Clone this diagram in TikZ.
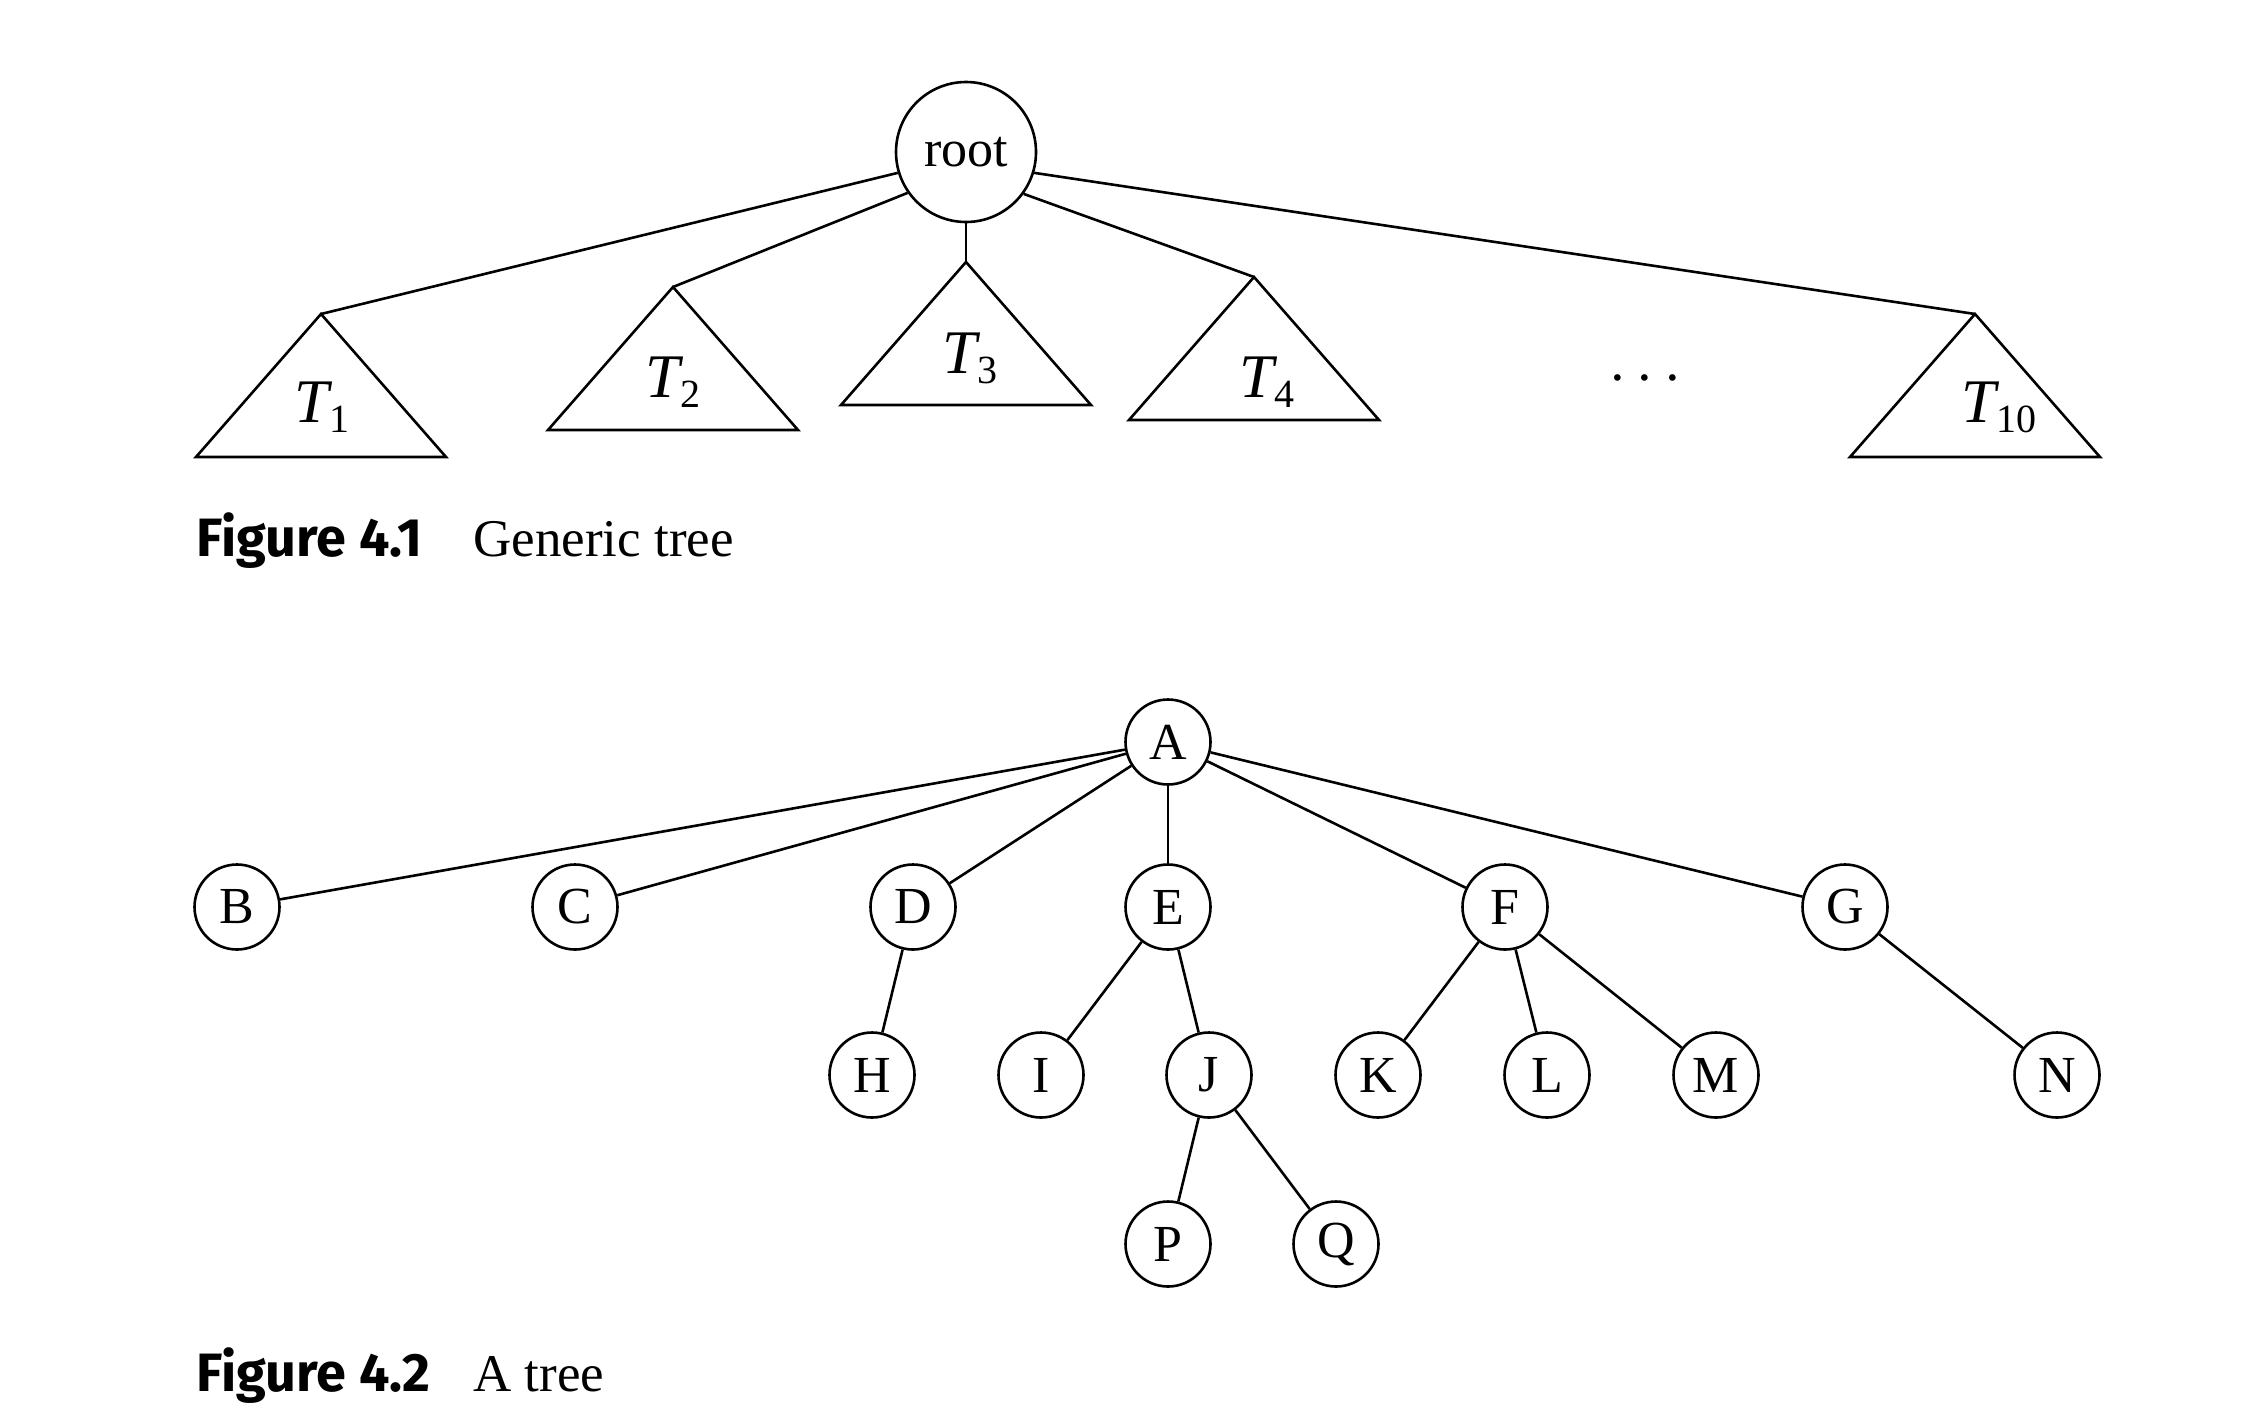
\documentclass[tikz,border=0pt]{standalone}
\usepackage{fontspec}
\setmainfont{Liberation Serif}
\newfontfamily\capsans{Fira Sans}
% subtree name: italic T with a lowered upright index
\newcommand\subtree[1]{\textit{T}\kern-1.5pt\raisebox{-5pt}{\fontsize{20}{20}\selectfont #1}}
\begin{document}
\begin{tikzpicture}[x=0.5pt,y=-0.5pt,
  edge/.style={line width=1.3pt},
  tri/.style={line width=1.3pt, line join=miter},
  rootnode/.style={circle, draw, line width=1.3pt, minimum size=70pt, inner sep=0pt,
    font=\fontsize{26}{26}\selectfont},
  vert/.style={circle, draw, line width=1.3pt, minimum size=42.5pt, inner sep=0pt,
    font=\fontsize{26}{26}\selectfont},
  sublabel/.style={anchor=base west, inner sep=0pt, font=\fontsize{31}{31}\selectfont},
  capnum/.style={anchor=base west, inner sep=0pt, font=\capsans\bfseries\fontsize{27}{27}\selectfont},
  captext/.style={anchor=base west, inner sep=0pt, font=\fontsize{26.5}{26.5}\selectfont}]
\useasboundingbox (0,0) rectangle (2248,1408);

% ---------- generic tree ----------
\node[rootnode] (root) at (966,152) {root};

\coordinate (t1) at (321,314);
\coordinate (t2) at (673,287);
\coordinate (t3) at (966,262);
\coordinate (t4) at (1254,277);
\coordinate (t10) at (1975,314);

\foreach \t in {t1,t2,t3,t4,t10}
  \draw[tri] (\t) -- ++(-125,143) -- ++(250,0) -- cycle;

\node[sublabel] (l1) at (294,422) {\subtree{1}};
\node[sublabel] (l2) at (645,397) {\subtree{2}};
\node[sublabel] (l3) at (942,373) {\subtree{3}};
\node[sublabel] (l4) at (1239,397) {\subtree{4}};
\node[sublabel] (l10) at (1961,422) {\subtree{10}};

\node[font=\fontsize{28}{28}\selectfont, inner sep=0pt] (dots) at (1645,386)
  {\textperiodcentered\hspace{4.5pt}\textperiodcentered\hspace{4.5pt}\textperiodcentered};

\draw[edge] (root.197) -- (t1);
\draw[edge] (root.215) -- (t2);
\draw[edge] (root.south) -- (t3);
\draw[edge] (root.324) -- (t4);
\draw[edge] (root.343) -- (t10);

\node[capnum] (cap1) at (196,556) {Figure 4.1};
\node[captext] (cap1t) at (473,556) {Generic tree};

% ---------- a tree ----------
\node[vert] (A) at (1168,742) {A};
\node[vert] (B) at (237,907) {B};
\node[vert] (C) at (575,907) {C};
\node[vert] (D) at (913,907) {D};
\node[vert] (E) at (1168,907) {E};
\node[vert] (F) at (1505,907) {F};
\node[vert] (G) at (1845,907) {G};
\node[vert] (H) at (872,1075) {H};
\node[vert] (I) at (1041,1075) {I};
\node[vert] (J) at (1209,1075) {J};
\node[vert] (K) at (1378,1075) {K};
\node[vert] (L) at (1547,1075) {L};
\node[vert] (M) at (1716,1075) {M};
\node[vert] (N) at (2057,1075) {N};
\node[vert] (P) at (1168,1244) {P};
\node[vert] (Q) at (1336,1244) {Q};

\foreach \a/\b in {A/B,A/C,A/D,A/E,A/F,A/G,D/H,E/I,E/J,F/K,F/L,F/M,G/N,J/P,J/Q}
  \draw[edge] (\a) -- (\b);

\node[capnum] (cap2) at (196,1391) {Figure 4.2};
\node[captext] (cap2t) at (473,1391) {A tree};
\end{tikzpicture}
\end{document}
